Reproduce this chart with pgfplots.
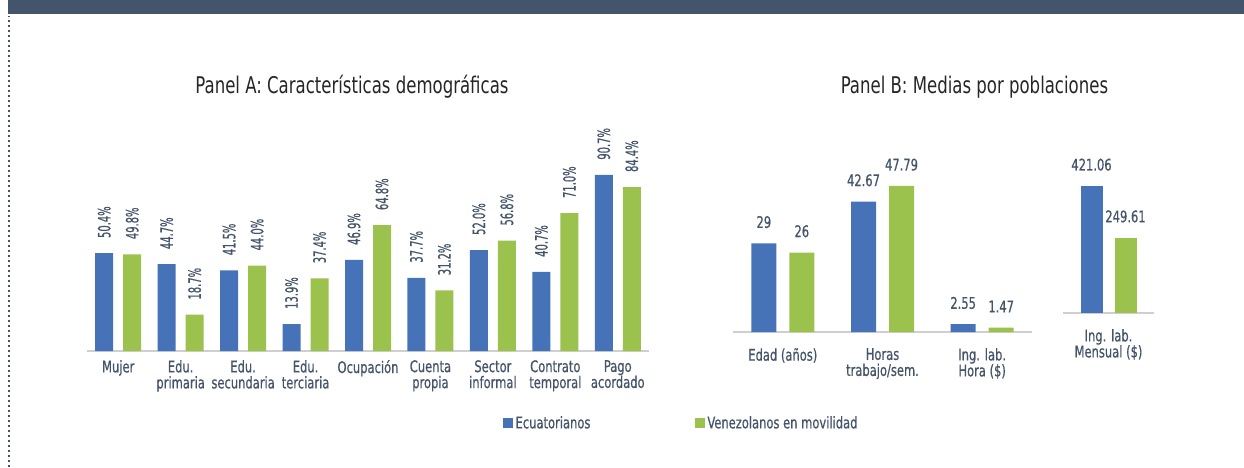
\documentclass[border=0pt]{standalone}
\usepackage{pgfplots}
\pgfplotsset{compat=1.18}
\usepackage{fontspec}
\setmainfont{DejaVu Sans Condensed}[FakeStretch=0.8, FakeBold=0.6]
\newfontfamily\titlefont{DejaVu Sans Condensed}[FakeStretch=0.8]
\newfontfamily\numfont{DejaVu Sans Condensed}[FakeStretch=0.65, FakeBold=0.6]
\newfontfamily\numfontb{DejaVu Sans Condensed}[FakeStretch=0.8, FakeBold=0.6]
\definecolor{textc}{HTML}{44546A}
\definecolor{headc}{HTML}{44546A}
\definecolor{bblue}{HTML}{4672B8}
\definecolor{bgreen}{HTML}{9CC24E}
\definecolor{axc}{HTML}{CFCFCF}
\pgfplotsset{
  common/.style={
    scale only axis, anchor=south west, clip=false,
    ymin=0,
    axis y line=none, axis x line=bottom,
    x axis line style={-, draw=axc, line width=2.2pt},
    major tick length=0pt,
    xticklabel style={align=center, text=textc, font=\fontsize{16}{16}\selectfont, inner sep=0pt, yshift=-9pt},
    point meta=explicit symbolic,
    nodes near coords={\pgfplotspointmeta},
  },
}
\begin{document}
\begin{tikzpicture}[x=1pt,y=1pt]
\path[use as bounding box] (0,0) rectangle (1244,467);
\fill[headc] (8,453.3) rectangle (1244,467);
\draw[headc, line width=2.2pt, dash pattern=on 2.2pt off 2.8pt] (9,0) -- (9,451);
\node[text=black!85, font=\titlefont\fontsize{23}{26}\selectfont] at (352,380) {Panel A: Características demográficas};
\node[text=black!85, font=\titlefont\fontsize{23}{26}\selectfont] at (974.5,380) {Panel B: Medias por poblaciones};

% Panel A
\begin{axis}[common,
  at={(87pt,116pt)}, width=562pt, height=200pt,
  xmin=-0.5, xmax=8.5, ymax=103,
  ybar=10pt, bar width=18pt,
  xtick={0,...,8},
  xticklabels={Mujer,{Edu.\\primaria},{Edu.\\secundaria},{Edu.\\terciaria},Ocupación,{Cuenta\\propia},{Sector\\informal},{Contrato\\temporal},{Pago\\acordado}},
  every node near coord/.append style={rotate=90, anchor=west, inner xsep=0pt, inner ysep=0pt, text=textc, font=\numfont\fontsize{17}{17}\selectfont},
  legend columns=2,
  legend image code/.code={\fill[#1] (0pt,-5pt) rectangle (10pt,5pt);},
  legend style={draw=none, fill=none, inner sep=0pt, at={(rel axis cs:0.740,-0.36)}, anchor=west,
    font=\fontsize{16}{16}\selectfont, text=textc,
    nodes={inner xsep=2.5pt, inner ysep=0pt},
    /tikz/every even column/.append style={column sep=102pt}},
]
\addplot[fill=bblue, draw=none, every node near coord/.append style={shift={(15pt,0pt)}}] coordinates {
 (0,50.4)[50.4\%] (1,44.7)[44.7\%] (2,41.5)[41.5\%] (3,13.9)[13.9\%] (4,46.9)[46.9\%]
 (5,37.7)[37.7\%] (6,52.0)[52.0\%] (7,40.7)[40.7\%] (8,90.7)[90.7\%]};
\addplot[fill=bgreen, draw=none, every node near coord/.append style={shift={(15pt,0pt)}}] coordinates {
 (0,49.8)[49.8\%] (1,18.7)[18.7\%] (2,44.0)[44.0\%] (3,37.4)[37.4\%] (4,64.8)[64.8\%]
 (5,31.2)[31.2\%] (6,56.8)[56.8\%] (7,71.0)[71.0\%] (8,84.4)[84.4\%]};
\legend{Ecuatorianos, Venezolanos en movilidad}
\end{axis}

% Panel B left
\begin{axis}[common,
  at={(733pt,135pt)}, width=299pt, height=170pt,
  xmin=-0.5, xmax=2.5, ymax=55.6,
  ybar=13pt, bar width=25pt,
  xtick={0,1,2},
  xticklabels={{Edad (años)},{Horas\\trabajo/sem.},{Ing. lab.\\Hora (\$)}},
  xticklabel style={yshift=-7pt},
  every node near coord/.append style={anchor=south, inner sep=0pt, yshift=15pt, text=textc, font=\numfontb\fontsize{16}{16}\selectfont},
]
\addplot[fill=bblue, draw=none] coordinates {(0,29)[29] (1,42.67)[42.67] (2,2.55)[2.55]};
\addplot[fill=bgreen, draw=none] coordinates {(0,26)[26] (1,47.79)[47.79] (2,1.47)[1.47]};
\end{axis}

% Panel B right
\begin{axis}[common,
  at={(1063pt,154pt)}, width=91pt, height=150pt,
  xmin=-0.5, xmax=0.5, ymax=497,
  ybar=12pt, bar width=22pt,
  xtick={0},
  xticklabels={{Ing. lab.\\Mensual (\$)}},
  xticklabel style={yshift=-7pt},
  every node near coord/.append style={anchor=south, inner sep=0pt, yshift=15pt, text=textc, font=\numfontb\fontsize{16}{16}\selectfont},
]
\addplot[fill=bblue, draw=none] coordinates {(0,421.06)[421.06]};
\addplot[fill=bgreen, draw=none] coordinates {(0,249.61)[249.61]};
\end{axis}
\end{tikzpicture}
\end{document}
